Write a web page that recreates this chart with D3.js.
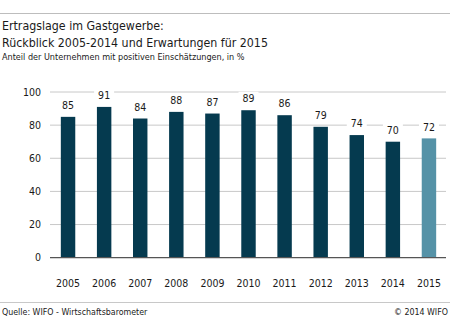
<!DOCTYPE html>
<html>
<head>
<meta charset="utf-8">
<script src="https://cdn.jsdelivr.net/npm/d3@7"></script>
<style>
  body { margin: 0; background: #fff; }
  text { font-family: "DejaVu Sans Condensed", "Lato", sans-serif; fill: #1a1a1a; }
</style>
</head>
<body>
<svg id="chart" width="450" height="333"></svg>
<script>
// data
const years = ["2005", "2006", "2007", "2008", "2009", "2010", "2011", "2012", "2013", "2014", "2015"];
const values = [85, 91, 84, 88, 87, 89, 86, 79, 74, 70, 72];
const forecastYear = "2015";
const yTicks = [0, 20, 40, 60, 80, 100];

const titleLines = ["Ertragslage im Gastgewerbe:", "Rückblick 2005-2014 und Erwartungen für 2015"];
const subtitle = "Anteil der Unternehmen mit positiven Einschätzungen, in %";
const source = "Quelle: WIFO - Wirtschaftsbarometer";
const copyright = "© 2014 WIFO";

const width = 450, height = 333;
const margin = { top: 92, right: 3, bottom: 75, left: 50 };

const svg = d3.select("#chart");

// header
svg.append("line")
  .attr("x1", 0).attr("x2", width)
  .attr("y1", 13.5).attr("y2", 13.5)
  .attr("stroke", "#bdbdbd").attr("stroke-width", 1.2);

svg.selectAll("text.title")
  .data(titleLines)
  .enter().append("text")
  .attr("class", "title")
  .attr("x", 2)
  .attr("y", (d, i) => 30 + i * 16.5)
  .style("font-size", "12.3px")
  .text(d => d);

svg.append("text")
  .attr("x", 2).attr("y", 60)
  .style("font-size", "9px")
  .text(subtitle);

const x = d3.scaleBand()
  .domain(years)
  .range([margin.left, width - margin.right])
  .paddingInner(0.6)
  .paddingOuter(0.3);

const y = d3.scaleLinear()
  .domain([0, 100])
  .range([height - margin.bottom - 0.3, margin.top]);

// grid
const grid = svg.append("g");
grid.selectAll("line")
  .data(yTicks.filter(d => d > 0))
  .enter().append("line")
  .attr("x1", margin.left).attr("x2", width - 4)
  .attr("y1", d => y(d)).attr("y2", d => y(d))
  .attr("stroke", "#c8c8c8").attr("stroke-width", 1);

// y labels
svg.append("g")
  .selectAll("text")
  .data(yTicks)
  .enter().append("text")
  .attr("x", 41)
  .attr("y", d => y(d))
  .attr("dy", "0.35em")
  .attr("text-anchor", "end")
  .style("font-size", "10.5px")
  .text(d => d);

// bars
svg.append("g")
  .selectAll("rect")
  .data(years)
  .enter().append("rect")
  .attr("x", d => x(d))
  .attr("width", x.bandwidth())
  .attr("y", (d, i) => y(values[i]))
  .attr("height", (d, i) => y(0) - y(values[i]))
  .attr("fill", d => d === forecastYear ? "#5592a7" : "#053a4f");

// baseline
svg.append("line")
  .attr("x1", margin.left).attr("x2", width - 4)
  .attr("y1", y(0)).attr("y2", y(0))
  .attr("stroke", "#555").attr("stroke-width", 1.2);

// value labels with white box to cut the grid
const lab = svg.append("g")
  .selectAll("g")
  .data(years)
  .enter().append("g")
  .attr("transform", (d, i) => "translate(" + (x(d) + x.bandwidth() / 2) + "," + (y(values[i]) - 11.5) + ")");

lab.append("rect")
  .attr("x", -10).attr("y", -7)
  .attr("width", 20).attr("height", 14)
  .attr("fill", "#fff");

lab.append("text")
  .attr("text-anchor", "middle")
  .attr("dy", "0.35em")
  .style("font-size", "10.5px")
  .text((d, i) => values[i]);

// x labels
svg.append("g")
  .selectAll("text")
  .data(years)
  .enter().append("text")
  .attr("x", d => x(d) + x.bandwidth() / 2)
  .attr("y", 283)
  .attr("dy", "0.35em")
  .attr("text-anchor", "middle")
  .style("font-size", "10.5px")
  .text(d => d);

// footer
svg.append("line")
  .attr("x1", 0).attr("x2", width)
  .attr("y1", 302.5).attr("y2", 302.5)
  .attr("stroke", "#c8c8c8").attr("stroke-width", 1);

svg.append("text")
  .attr("x", 2).attr("y", 315)
  .style("font-size", "8.8px")
  .text(source);

svg.append("text")
  .attr("x", width - 2).attr("y", 315)
  .attr("text-anchor", "end")
  .style("font-size", "8.8px")
  .text(copyright);
</script>
</body>
</html>
